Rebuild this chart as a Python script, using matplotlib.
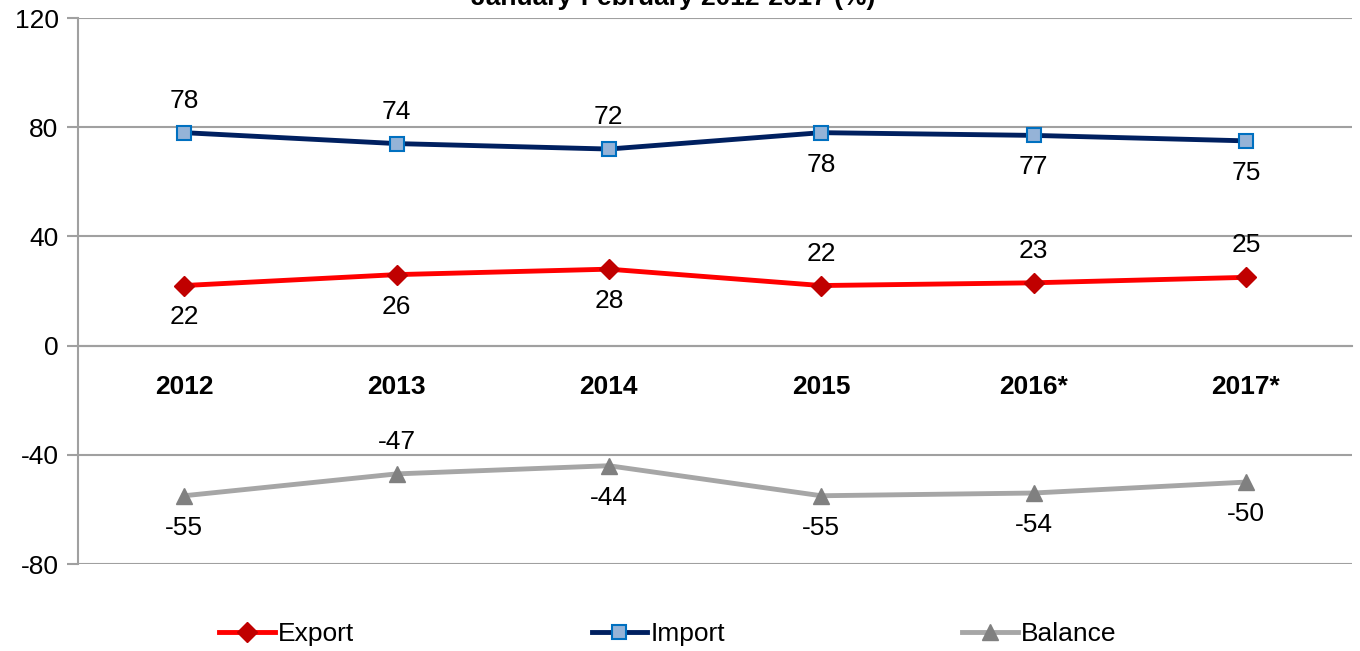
import matplotlib

matplotlib.use("Agg")
import matplotlib.pyplot as plt

plt.rcParams["font.family"] = ["Liberation Sans", "DejaVu Sans"]
plt.rcParams["axes.unicode_minus"] = False

years = ["2012", "2013", "2014", "2015", "2016*", "2017*"]
export = [22, 26, 28, 22, 23, 25]
imports = [78, 74, 72, 78, 77, 75]
balance = [-55, -47, -44, -55, -54, -50]

# label placement per point: +1 above, -1 below
export_pos = [-1, -1, -1, 1, 1, 1]
import_pos = [1, 1, 1, -1, -1, -1]
balance_pos = [-1, 1, -1, -1, -1, -1]

title = "January-February 2012-2017 (%)"

fig = plt.figure(figsize=(13.6, 6.51), dpi=100)
ax = fig.add_axes([78 / 1360, 1 - 564 / 651, 1274 / 1360, 546 / 651])

x = list(range(len(years)))
grid_c = "#A0A0A0"
fs = 19

# spines first: moving a spine resets the tick settings
for s in ("top", "right"):
    ax.spines[s].set_visible(False)
ax.spines["bottom"].set_position(("data", 0))
ax.spines["bottom"].set_color(grid_c)
ax.spines["bottom"].set_linewidth(1.5)
ax.spines["left"].set_color(grid_c)
ax.spines["left"].set_linewidth(1.5)

ax.plot(x, export, color="#FF0000", lw=3.5, marker="D", ms=10,
        mfc="#C00000", mec="#C00000", label="Export", zorder=3)
ax.plot(x, imports, color="#002060", lw=3.5, marker="s", ms=10,
        mfc="#95B3D7", mec="#0070C0", mew=1.5, label="Import", zorder=3)
ax.plot(x, balance, color="#A6A6A6", lw=3.5, marker="^", ms=11,
        mfc="#808080", mec="#808080", label="Balance", zorder=3)

for vals, pos in ((export, export_pos), (imports, import_pos), (balance, balance_pos)):
    for xi, v, p in zip(x, vals, pos):
        ax.annotate(str(v), (xi, v), xytext=(0, 23 * p), textcoords="offset points",
                    ha="center", va="center", fontsize=fs)

ax.set_xlim(-0.5, len(years) - 0.5)
ax.set_ylim(-80, 120)
ax.set_yticks([-80, -40, 0, 40, 80, 120])
ax.yaxis.grid(True, color=grid_c, lw=1.5)
ax.set_axisbelow(True)

ax.set_xticks(x)
ax.set_xticklabels(years, fontsize=fs, fontweight="bold")
ax.tick_params(axis="x", length=0, pad=21)
ax.tick_params(axis="y", labelsize=fs, length=8, width=1.5, color=grid_c, pad=6)

fig.text(673 / 1360, 1 - 5 / 651, title, ha="center", va="baseline",
         fontsize=fs, fontweight="bold")

fig.legend(loc="center", bbox_to_anchor=(668 / 1360, 1 - 634 / 651), ncol=3,
           frameon=False, fontsize=fs, handlelength=2.1, handletextpad=0.12,
           columnspacing=9.0)

fig.savefig("out.png", dpi=100)
